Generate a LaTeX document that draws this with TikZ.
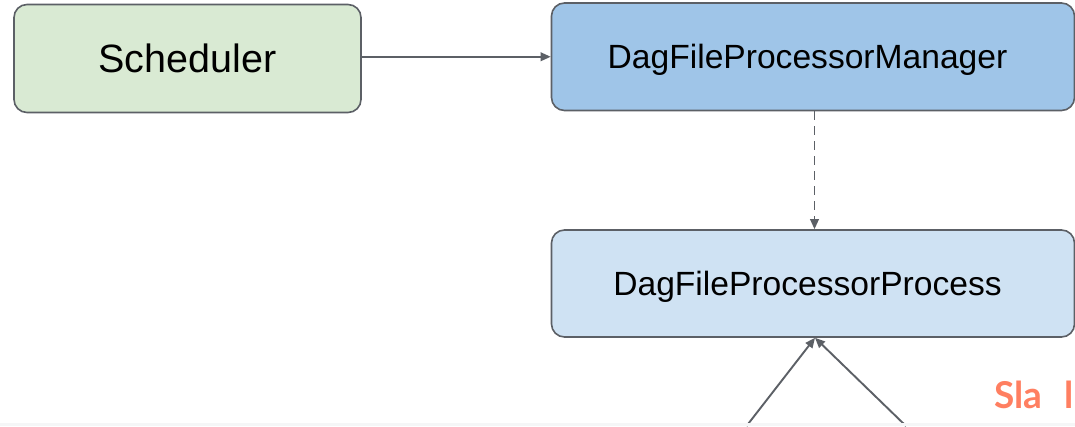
\documentclass[tikz,border=0pt]{standalone}
\usepackage{fontspec}
\setmainfont{Liberation Sans}
\newfontfamily\slafont{Lato}
\usetikzlibrary{arrows.meta}
\definecolor{edge}{RGB}{92,96,102}
\definecolor{schedfill}{RGB}{217,234,211}
\definecolor{mgrfill}{RGB}{159,197,232}
\definecolor{procfill}{RGB}{207,226,243}
\definecolor{coral}{RGB}{255,127,97}
\definecolor{strip}{RGB}{245,246,247}
\tikzset{
  box/.style={draw=edge, line width=1.6pt, rounded corners=13pt, inner sep=0pt, text depth=0pt},
  arr/.style={draw=edge, line width=1.9pt, -{Triangle[length=10pt,width=8.5pt]}},
  dasharr/.style={arr, dash pattern=on 9pt off 6pt},
}
\begin{document}
\begin{tikzpicture}[x=1pt,y=-1pt]
\useasboundingbox (0,0) rectangle (1075,426);
\fill[white] (0,0) rectangle (1075,426);
\node[box, fill=schedfill, minimum width=347pt, minimum height=108pt, text height=28.3pt,
  font=\fontsize{39.5}{40}\selectfont] (sched) at (187.5,58.5) {Scheduler};
\node[box, fill=mgrfill, minimum width=523pt, minimum height=107.5pt, text height=24pt,
  font=\fontsize{33.6}{34}\selectfont] (mgr) at (813,56.75) {DagFileProcessorManager\hspace*{11pt}};
\node[box, fill=procfill, minimum width=523pt, minimum height=107pt, text height=24pt,
  font=\fontsize{33.6}{34}\selectfont] (proc) at (813,283.5) {DagFileProcessorProcess\hspace*{11pt}};
\draw[arr] (sched.east |- mgr.west) -- (mgr.west);
\draw[dasharr] ([xshift=1.5pt]mgr.south) -- ([xshift=1.5pt]proc.north);
\coordinate (srcA) at (746.5,426);
\coordinate (srcB) at (906,426);
\draw[arr] (srcA) -- ([xshift=2pt]proc.south);
\draw[arr] (srcB) -- ([xshift=2pt]proc.south);
\node[anchor=base west, inner sep=0pt, text=coral, font=\slafont\bfseries\fontsize{37}{38}\selectfont] (sla) at (994,408) {Sla\hspace{22pt}l};
\fill[strip] (0,423) rectangle (1075,426);
\end{tikzpicture}
\end{document}
